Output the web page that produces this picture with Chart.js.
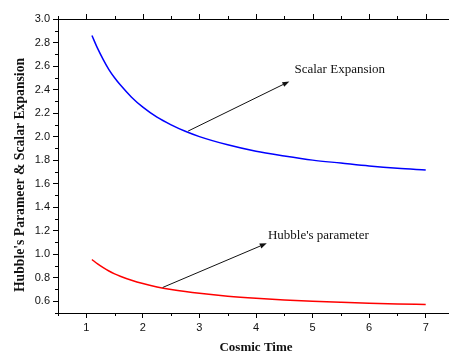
<!DOCTYPE html>
<html>
<head>
<meta charset="utf-8">
<script src="https://cdn.jsdelivr.net/npm/chart.js@4"></script>
<style>
html, body { margin: 0; padding: 0; background: #fff; overflow: hidden; }
#wrap { width: 449px; height: 354px; overflow: hidden; position: relative; }
canvas { position: absolute; left: 0; top: 0; }
</style>
</head>
<body>
<div id="wrap"><canvas id="chart" width="456" height="354"></canvas></div>
<script>
const cosmicTime = [1.1, 1.2, 1.3, 1.4, 1.5, 1.6, 1.8, 2, 2.25, 2.5, 2.75, 3, 3.5, 4, 4.5, 5, 5.5, 6, 6.5, 7];
const scalarExpansion = [2.86, 2.75, 2.655, 2.57, 2.50, 2.44, 2.335, 2.25, 2.165, 2.10, 2.045, 2.00, 1.93, 1.875, 1.835, 1.80, 1.775, 1.75, 1.73, 1.715];
const hubbleParam = [0.955, 0.917, 0.885, 0.857, 0.833, 0.813, 0.778, 0.75, 0.722, 0.70, 0.682, 0.667, 0.643, 0.625, 0.611, 0.60, 0.591, 0.583, 0.577, 0.572];
const xTicks = [1, 2, 3, 4, 5, 6, 7];
const yTicks = [0.6, 0.8, 1.0, 1.2, 1.4, 1.6, 1.8, 2.0, 2.2, 2.4, 2.6, 2.8, 3.0];
const yTitle = "Hubble's Parameer & Scalar Expansion";

// labels with arrows, in data units
const notes = [
    { text: 'Scalar Expansion', tail: [2.80, 2.047], head: [4.59, 2.469], pos: [4.68, 2.568] },
    { text: "Hubble's parameter", tail: [2.35, 0.717], head: [4.19, 1.093], pos: [4.21, 1.158] }
];

const serif = '"Liberation Serif", "Times New Roman", serif';
const sans = '"Liberation Sans", Arial, sans-serif';

const toPts = ys => cosmicTime.map((t, i) => ({ x: t, y: ys[i] }));

// minor ticks, top frame, y title and arrow notes
const extras = {
    id: 'extras',
    afterDraw(chart) {
        const c = chart.ctx;
        const xs = chart.scales.x, ys = chart.scales.y;
        const a = chart.chartArea;
        c.save();
        c.strokeStyle = '#000';
        c.lineWidth = 1;
        c.beginPath();
        // top frame line
        c.moveTo(a.left, a.top + 0.5);
        c.lineTo(a.right, a.top + 0.5);
        // x ticks: bottom minor, top major/minor
        for (let v = 0.5; v <= 7.5 + 1e-9; v += 0.5) {
            const px = Math.round(xs.getPixelForValue(v)) + 0.5;
            const major = Math.abs(v - Math.round(v)) < 1e-9;
            if (!major) {
                c.moveTo(px, a.bottom);
                c.lineTo(px, a.bottom + 3);
            }
            c.moveTo(px, a.top);
            c.lineTo(px, a.top - (major ? 5 : 3));
        }
        // y minor ticks
        for (let k = 5; k <= 30; k++) {
            if (k % 2 === 0) continue;
            const py = Math.round(ys.getPixelForValue(k / 10)) + 0.5;
            c.moveTo(a.left, py);
            c.lineTo(a.left - 3, py);
        }
        c.stroke();

        // y axis title
        c.save();
        c.translate(20, 175);
        c.rotate(-Math.PI / 2);
        c.fillStyle = '#111';
        c.font = 'bold 13.7px ' + serif;
        c.textAlign = 'center';
        c.textBaseline = 'middle';
        c.fillText(yTitle, 0, 0);
        c.restore();

        // arrows + text
        c.fillStyle = '#111';
        c.strokeStyle = '#111';
        c.font = '13px ' + serif;
        c.textBaseline = 'middle';
        c.textAlign = 'left';
        notes.forEach(n => {
            const x1 = xs.getPixelForValue(n.tail[0]), y1 = ys.getPixelForValue(n.tail[1]);
            const x2 = xs.getPixelForValue(n.head[0]), y2 = ys.getPixelForValue(n.head[1]);
            const ang = Math.atan2(y2 - y1, x2 - x1);
            const len = 7, w = 2.6;
            const bx = x2 - len * Math.cos(ang), by = y2 - len * Math.sin(ang);
            c.beginPath();
            c.moveTo(x1, y1);
            c.lineTo(bx, by);
            c.stroke();
            c.beginPath();
            c.moveTo(x2, y2);
            c.lineTo(bx + w * Math.sin(ang), by - w * Math.cos(ang));
            c.lineTo(bx - w * Math.sin(ang), by + w * Math.cos(ang));
            c.closePath();
            c.fill();
            c.fillText(n.text, xs.getPixelForValue(n.pos[0]), ys.getPixelForValue(n.pos[1]));
        });
        c.restore();
    }
};

const ctx = document.getElementById('chart').getContext('2d');
const chart = new Chart(ctx, {
    type: 'line',
    data: {
        datasets: [{
            label: 'Scalar Expansion',
            data: toPts(scalarExpansion),
            borderColor: '#0000ff',
            borderWidth: 1.5,
            pointRadius: 0,
            fill: false,
            cubicInterpolationMode: 'monotone'
        }, {
            label: "Hubble's parameter",
            data: toPts(hubbleParam),
            borderColor: '#ff0000',
            borderWidth: 1.5,
            pointRadius: 0,
            fill: false,
            cubicInterpolationMode: 'monotone'
        }]
    },
    options: {
        responsive: false,
        animation: false,
        layout: { padding: { top: 19, right: 2, left: 0, bottom: 0 } },
        plugins: {
            legend: { display: false },
            tooltip: { enabled: false }
        },
        scales: {
            x: {
                type: 'linear',
                min: 0.5,
                max: 7.5,
                afterBuildTicks: s => { s.ticks = xTicks.map(v => ({ value: v })); },
                afterFit: s => { s.height = 41; },
                grid: { drawOnChartArea: false, tickLength: 5, tickColor: '#000' },
                border: { display: true, color: '#000', width: 1 },
                ticks: { color: '#111', padding: 3, font: { family: sans, size: 11 } },
                title: {
                    display: true,
                    text: 'Cosmic Time',
                    color: '#111',
                    padding: 0,
                    font: { family: serif, size: 13, weight: 'bold', lineHeight: 1 }
                }
            },
            y: {
                min: 0.5,
                max: 3.0,
                afterBuildTicks: s => { s.ticks = yTicks.map(v => ({ value: v })); },
                afterFit: s => { s.width = 58; },
                grid: { drawOnChartArea: false, tickLength: 5, tickColor: '#000' },
                border: { display: true, color: '#000', width: 1 },
                ticks: {
                    color: '#111',
                    padding: 3,
                    font: { family: sans, size: 11 },
                    callback: v => v.toFixed(1)
                }
            }
        }
    },
    plugins: [extras]
});
</script>
</body>
</html>
